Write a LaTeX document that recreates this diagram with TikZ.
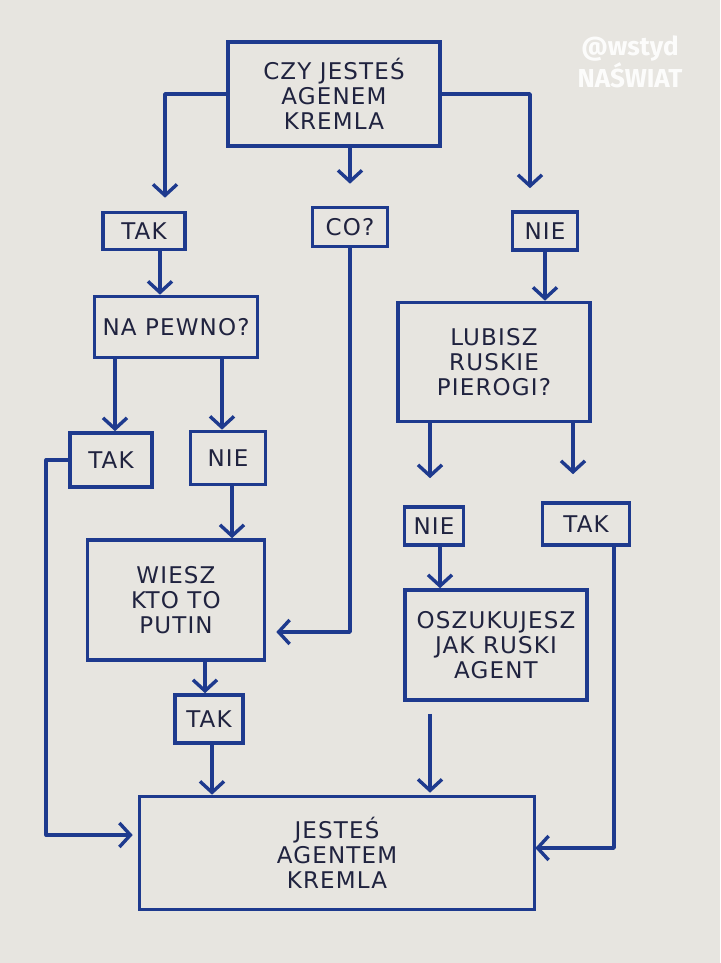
\documentclass[tikz,border=0pt]{standalone}
\usepackage{fontspec}
\setmainfont{DejaVu Sans}[LetterSpace=5]
\newfontfamily\wmfont{Fira Sans}
\usetikzlibrary{arrows.meta}
\definecolor{paper}{HTML}{E7E5E0}
\definecolor{ink}{HTML}{1E3A8E}
\definecolor{txt}{HTML}{20233F}
\begin{document}
\begin{tikzpicture}[x=1pt,y=-1pt,
  box/.style={draw=ink,line width=3.6pt,inner sep=0pt,text=txt,align=center,
    font=\fontsize{23}{25}\selectfont},
  arr/.style={draw=ink,line width=3.6pt,line join=round,
    -{Straight Barb[length=11pt,width=24pt,line width=3.4pt]}}]
\fill[paper] (0,0) rectangle (720,963);
\useasboundingbox (0,0) rectangle (720,963);

\node[box,minimum width=212pt,minimum height=104pt] (top) at (334,94) {CZY JESTEŚ\\AGENEM\\KREMLA};
\node[box,minimum width=82pt,minimum height=37pt] (tak1) at (144,231) {TAK};
\node[box,minimum width=75pt,minimum height=39pt] (co) at (350,227) {CO?};
\node[box,minimum width=65pt,minimum height=38pt] (nie1) at (545,231) {NIE};
\node[box,minimum width=163pt,minimum height=61pt] (napewno) at (176,327) {NA PEWNO?};
\node[box,minimum width=192pt,minimum height=119pt] (lubisz) at (494,362) {LUBISZ\\RUSKIE\\PIEROGI?};
\node[box,minimum width=82pt,minimum height=54pt] (tak2) at (111,460) {TAK};
\node[box,minimum width=75pt,minimum height=53pt] (nie2) at (228,458) {NIE};
\node[box,minimum width=59pt,minimum height=38pt] (nie3) at (434,526) {NIE};
\node[box,minimum width=87pt,minimum height=42pt] (tak3) at (586,524) {TAK};
\node[box,minimum width=177pt,minimum height=120pt] (wiesz) at (176,600) {WIESZ\\KTO TO\\PUTIN};
\node[box,minimum width=182pt,minimum height=110pt] (oszuk) at (496,645) {OSZUKUJESZ\\JAK RUSKI\\AGENT};
\node[box,minimum width=68pt,minimum height=48pt] (tak4) at (209,719) {TAK};
\node[box,minimum width=395pt,minimum height=113pt] (jestes) at (337,853) {JESTEŚ\\AGENTEM\\KREMLA};

\node[text=white,opacity=0.9,align=center,font=\wmfont\bfseries\fontsize{26}{26}\selectfont] (wm) at (630,62) {@wstyd\\NAŚWIAT};

% connectors
\draw[arr] (top.west) -| ([xshift=21pt,yshift=13pt]tak1.north);
\draw[arr] (top.south -| co.north) -- ([yshift=22pt]co.north);
\draw[arr] (top.east) -| ([xshift=-15pt,yshift=22pt]nie1.north);
\draw[arr] ([xshift=16pt]tak1.south) -- ([xshift=-16pt]napewno.north);
\draw[arr] ([xshift=-61pt]napewno.south) -- ([xshift=4pt]tak2.north);
\draw[arr] ([xshift=46pt]napewno.south) -- ([xshift=-6pt]nie2.north);
\draw[arr] ([xshift=4pt]nie2.south) -- ([xshift=56pt]wiesz.north);
\draw[arr] (co.south) |- ([xshift=10pt,yshift=-32pt]wiesz.east);
\draw[arr] (nie1.south) -- ([xshift=51pt]lubisz.north);
\draw[arr] ([xshift=-64pt]lubisz.south) -- ([xshift=-4pt,yshift=27pt]nie3.north);
\draw[arr] ([xshift=79pt]lubisz.south) -- ([xshift=-13pt,yshift=27pt]tak3.north);
\draw[arr] ([xshift=6pt]nie3.south) -- ([xshift=-56pt]oszuk.north);
\draw[arr] ([xshift=-66pt,yshift=-12pt]oszuk.south) -- ([xshift=93pt,yshift=2pt]jestes.north);
\draw[arr] ([xshift=28pt]tak3.south) |- ([xshift=-1pt,yshift=5pt]jestes.east);
\draw[arr] (tak2.west) -- ++(-22,0) |- ([xshift=-5pt,yshift=18pt]jestes.west);
\draw[arr] ([xshift=29pt]wiesz.south) -- ([xshift=-4pt]tak4.north);
\draw[arr] ([xshift=3pt]tak4.south) -- ([xshift=-125pt]jestes.north);
\end{tikzpicture}
\end{document}
